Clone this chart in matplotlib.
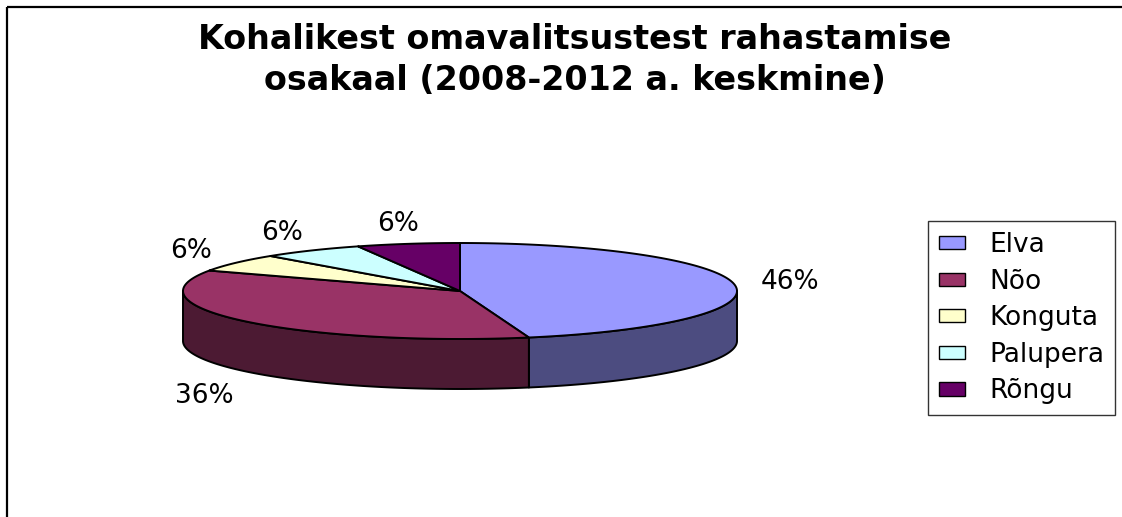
import numpy as np
import matplotlib
matplotlib.use("Agg")
import matplotlib.pyplot as plt
from matplotlib.patches import Polygon, Patch

plt.rcParams['font.family'] = ['DejaVu Sans']

# ---- data ----
categories = ["Elva", "Nõo", "Konguta", "Palupera", "Rõngu"]
values = [46, 36, 6, 6, 6]
labels = ["46%", "36%", "6%", "6%", "6%"]
top_colors = ["#9999FF", "#993366", "#FFFFCC", "#CCFFFF", "#660066"]
side_colors = ["#4C4C80", "#4C1A33", "#80806A", "#6A8080", "#330033"]
title = "Kohalikest omavalitsustest rahastamise\nosakaal (2008-2012 a. keskmine)"

# ---- layout (pixel coordinates) ----
W, H = 1122, 517
cx, cy = 460.0, 291.0
rx, ry = 277.0, 48.0
depth = 50.0

fig = plt.figure(figsize=(W / 100, H / 100), dpi=100)
ax = fig.add_axes([0, 0, 1, 1])
ax.set_xlim(0, W)
ax.set_ylim(H, 0)
ax.axis('off')

# chart area border (only top and left visible)
ax.plot([7, W + 5], [7, 7], color='black', lw=1.6, solid_capstyle='butt')
ax.plot([7, 7], [7, H + 5], color='black', lw=1.6, solid_capstyle='butt')


def pt(t, dz=0.0):
    r = np.radians(t)
    return cx + rx * np.cos(r), cy - ry * np.sin(r) + dz


total = float(sum(values))
angles = []
start = 90.0
for v in values:
    end = start - v / total * 360.0
    angles.append((end, start))
    start = end

# side walls (front half only: t in [-180, 0])
for (t0, t1), sc in zip(angles, side_colors):
    a, b = max(t0, -180.0), min(t1, 0.0)
    if a >= b:
        continue
    ts = np.linspace(a, b, 120)
    top = [pt(t) for t in ts]
    bot = [pt(t, depth) for t in ts[::-1]]
    ax.add_patch(Polygon(top + bot, closed=True, facecolor=sc,
                         edgecolor='black', lw=1.4, joinstyle='round'))

# top faces
for (t0, t1), tc in zip(angles, top_colors):
    ts = np.linspace(t0, t1, 200)
    verts = [(cx, cy)] + [pt(t) for t in ts]
    ax.add_patch(Polygon(verts, closed=True, facecolor=tc,
                         edgecolor='black', lw=1.4, joinstyle='round'))

# data labels
for (t0, t1), lab in zip(angles, labels):
    tm = np.radians((t0 + t1) / 2.0)
    x = cx + 1.2 * rx * np.cos(tm)
    y = cy - 1.42 * ry * np.sin(tm)
    if np.sin(tm) < 0:
        y += depth + 12
    ax.text(x, y, lab, ha='center', va='center', fontsize=19, color='black')

# title
ax.text(575, 60, title, ha='center', va='center', fontsize=24,
        fontweight='bold', linespacing=1.33)

# legend
handles = [Patch(facecolor=c, edgecolor='black', lw=1.0) for c in top_colors]
leg = fig.legend(handles, categories, loc='upper right',
                 bbox_to_anchor=(1115 / W, 1 - 221 / H),
                 bbox_transform=fig.transFigure, borderaxespad=0,
                 fontsize=19, frameon=True, fancybox=False,
                 handlelength=1.0, handleheight=0.4, handletextpad=0.9,
                 labelspacing=0.4, borderpad=0.42)
leg.get_frame().set_edgecolor('black')
leg.get_frame().set_linewidth(1.0)

fig.savefig("out.png", dpi=100, facecolor='white')
